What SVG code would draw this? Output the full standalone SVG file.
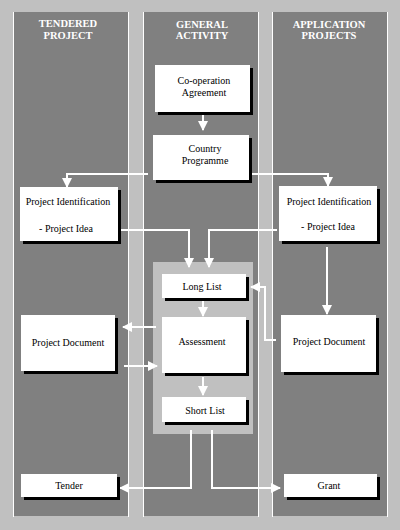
<svg xmlns="http://www.w3.org/2000/svg" width="400" height="530" viewBox="0 0 400 530">
<style>
.col{fill:#808080}
.edge{stroke:#ffffff;stroke-width:1}
.hdr{font-family:"Liberation Serif","Times New Roman",serif;font-weight:bold;font-size:10.5px;fill:#ffffff;text-anchor:middle}
.box{fill:#ffffff}
.sh{fill:#000000}
.t{font-family:"Liberation Serif","Times New Roman",serif;font-size:10px;fill:#000000;text-anchor:middle}
.c{fill:none;stroke:#ffffff;stroke-width:2;marker-end:url(#ah)}
</style>
<defs>
<marker id="ah" markerUnits="userSpaceOnUse" markerWidth="10" markerHeight="10" refX="9" refY="5" orient="auto">
<path d="M0,0 L10,5 L0,10 Z" fill="#ffffff"/>
</marker>
</defs>
<rect x="0" y="0" width="400" height="530" fill="#c0c0c0"/>
<g id="lanes">
<rect class="col" x="13" y="12" width="116" height="504"/>
<rect class="col" x="143" y="12" width="116" height="504"/>
<rect class="col" x="272" y="12" width="116" height="504"/>
<line class="edge" x1="13.5" y1="12" x2="13.5" y2="517"/>
<line class="edge" x1="128.5" y1="12" x2="128.5" y2="517"/>
<line class="edge" x1="143.5" y1="12" x2="143.5" y2="517"/>
<line class="edge" x1="258.5" y1="12" x2="258.5" y2="517"/>
<line class="edge" x1="272.5" y1="12" x2="272.5" y2="517"/>
<line class="edge" x1="387.5" y1="12" x2="387.5" y2="517"/>
<text class="hdr" x="68" y="27">TENDERED</text>
<text class="hdr" x="68" y="39">PROJECT</text>
<text class="hdr" x="202" y="28">GENERAL</text>
<text class="hdr" x="202" y="39">ACTIVITY</text>
<text class="hdr" x="329" y="28">APPLICATION</text>
<text class="hdr" x="329" y="39">PROJECTS</text>
</g>
<rect id="panel" x="153" y="262" width="100" height="172" fill="#c0c0c0"/>
<g id="connectors">
<path class="c" d="M203,113 V130"/>
<path class="c" d="M148,174 H67 V187"/>
<path class="c" d="M252,174 H328 V186"/>
<path class="c" d="M119,230 H189 V267"/>
<path class="c" d="M277,230 H209 V267"/>
<path class="c" d="M327,247 V314"/>
<path class="c" d="M203,300 V316"/>
<path class="c" d="M203,377 V395"/>
<path class="c" d="M156,327 H123"/>
<path class="c" d="M124,366 H157"/>
<path class="c" d="M276,340 H265 V287 H251"/>
<path class="c" d="M191,430 V488 H120"/>
<path class="c" d="M212,430 V488 H280"/>
</g>
<g id="coop"><rect class="sh" x="158" y="68" width="95" height="47"/><rect class="box" x="155" y="65" width="95" height="47"/><text class="t" x="204" y="84">Co-operation</text><text class="t" x="204" y="96">Agreement</text></g>
<g id="country"><rect class="sh" x="156" y="138" width="96" height="45"/><rect class="box" x="153" y="135" width="96" height="45"/><text class="t" x="205" y="152">Country</text><text class="t" x="205" y="164">Programme</text></g>
<g id="pi-left"><rect class="sh" x="23" y="190" width="98" height="54"/><rect class="box" x="20" y="187" width="98" height="54"/><text class="t" x="68" y="205">Project Identification</text><text class="t" x="66" y="232">- Project Idea</text></g>
<g id="pi-right"><rect class="sh" x="282" y="189" width="98" height="55"/><rect class="box" x="279" y="186" width="98" height="55"/><text class="t" x="329" y="205">Project Identification</text><text class="t" x="328" y="230">- Project Idea</text></g>
<g id="longlist"><rect class="sh" x="165" y="277" width="84" height="24"/><rect class="box" x="162" y="274" width="84" height="24"/><text class="t" x="202" y="290">Long List</text></g>
<g id="assessment"><rect class="sh" x="165" y="320" width="84" height="56"/><rect class="box" x="162" y="317" width="84" height="56"/><text class="t" x="202" y="345">Assessment</text></g>
<g id="shortlist"><rect class="sh" x="165" y="400" width="84" height="25"/><rect class="box" x="162" y="397" width="84" height="25"/><text class="t" x="205" y="414">Short List</text></g>
<g id="pd-left"><rect class="sh" x="24" y="318" width="94" height="56"/><rect class="box" x="21" y="315" width="94" height="56"/><text class="t" x="68" y="346">Project Document</text></g>
<g id="pd-right"><rect class="sh" x="284" y="318" width="95" height="57"/><rect class="box" x="281" y="315" width="95" height="57"/><text class="t" x="329" y="345">Project Document</text></g>
<g id="tender"><rect class="sh" x="24" y="477" width="96" height="23"/><rect class="box" x="21" y="474" width="96" height="23"/><text class="t" x="69" y="489">Tender</text></g>
<g id="grant"><rect class="sh" x="287" y="477" width="93" height="23"/><rect class="box" x="284" y="474" width="93" height="23"/><text class="t" x="329" y="489">Grant</text></g>
</svg>
